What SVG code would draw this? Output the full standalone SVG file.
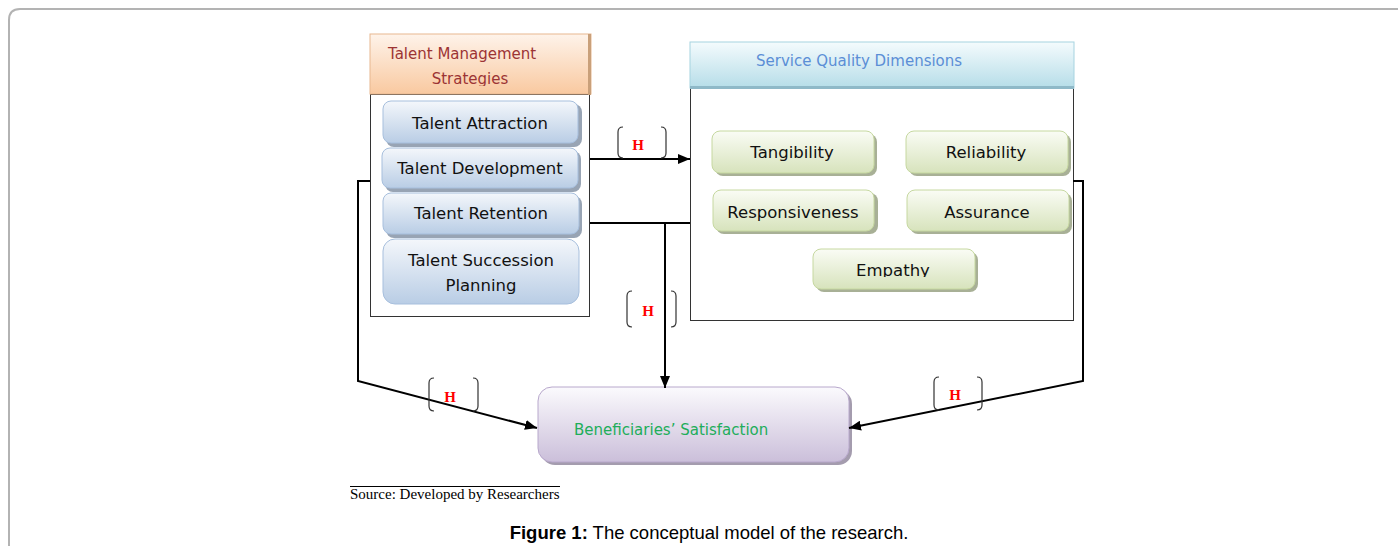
<svg xmlns="http://www.w3.org/2000/svg" width="1398" height="546" viewBox="0 0 1398 546">
<defs>
<linearGradient id="gBlue" x1="0" y1="0" x2="0" y2="1"><stop offset="0" stop-color="#f4f7fb"/><stop offset="1" stop-color="#b9cde5"/></linearGradient>
<linearGradient id="gGreen" x1="0" y1="0" x2="0" y2="1"><stop offset="0" stop-color="#fafcf5"/><stop offset="1" stop-color="#d7e3bc"/></linearGradient>
<linearGradient id="gOrange" x1="0" y1="0" x2="0" y2="1"><stop offset="0" stop-color="#fef3ea"/><stop offset="1" stop-color="#f9c9a0"/></linearGradient>
<linearGradient id="gCyan" x1="0" y1="0" x2="0" y2="1"><stop offset="0" stop-color="#f4fbfd"/><stop offset="1" stop-color="#b6dde8"/></linearGradient>
<linearGradient id="gPurple" x1="0" y1="0" x2="0" y2="1"><stop offset="0" stop-color="#fbfafd"/><stop offset="1" stop-color="#cbbfda"/></linearGradient>
<marker id="arr" viewBox="0 0 12 10" refX="12" refY="5" markerWidth="12" markerHeight="10" markerUnits="userSpaceOnUse" orient="auto"><path d="M0,0 L12,5 L0,10 z" fill="#000"/></marker>
<clipPath id="clipTM"><rect x="370" y="34" width="220" height="52"/></clipPath>
<clipPath id="clipEmp"><rect x="813" y="249" width="162" height="28"/></clipPath>
</defs>
<style>
.frame{fill:none;stroke:#b3b3b3;stroke-width:2}
.panel{fill:#fff;stroke:#333;stroke-width:1}
.bshadow{fill:#98a4b4}
.gshadow{fill:#a8b096}
.blue{fill:url(#gBlue);stroke:#a7bfdd;stroke-width:1}
.green{fill:url(#gGreen);stroke:#c6d8a0;stroke-width:1}
.btxt{font-family:"DejaVu Sans",sans-serif;font-size:16.5px;fill:#111;text-anchor:middle}
.htxt{font-family:"DejaVu Sans",sans-serif;font-size:15px}
.conn{fill:none;stroke:#000;stroke-width:2}
.brk{fill:none;stroke:#333;stroke-width:1.2}
.h{font-family:"Liberation Serif",serif;font-weight:bold;font-size:15px;fill:#f00;text-anchor:middle}
</style>
<path class="frame" d="M9,546 L9,20 Q9,9 20,9 L1398,9"/>

<g id="talent-management">
<rect class="panel" x="370.5" y="94.5" width="219" height="222"/>
<rect x="370" y="34" width="221" height="60" fill="url(#gOrange)" stroke="#e8b890" stroke-width="1"/>
<rect x="588" y="34" width="3" height="61" fill="#c9a07a"/>
<g clip-path="url(#clipTM)">
<text class="htxt" x="388" y="59" fill="#9c3434">Talent Management</text>
<text class="htxt" x="470" y="84" fill="#9c3434" text-anchor="middle">Strategies</text>
</g>
</g>

<g id="talent-attraction">
<rect class="bshadow" x="386" y="104" width="196" height="43" rx="8"/>
<rect class="blue" x="383" y="101" width="195" height="42" rx="8"/>
<text class="btxt" x="480" y="129">Talent Attraction</text>
</g>
<g id="talent-development">
<rect class="bshadow" x="385" y="151" width="196" height="41" rx="8"/>
<rect class="blue" x="382" y="148" width="196" height="40" rx="8"/>
<text class="btxt" x="480" y="174">Talent Development</text>
</g>
<g id="talent-retention">
<rect class="bshadow" x="386" y="196" width="196" height="42" rx="8"/>
<rect class="blue" x="383" y="193" width="196" height="41" rx="8"/>
<text class="btxt" x="481" y="219">Talent Retention</text>
</g>
<g id="talent-succession">
<rect class="blue" x="383" y="239" width="196" height="65" rx="12"/>
<text class="btxt" x="481" y="266">Talent Succession</text>
<text class="btxt" x="481" y="291">Planning</text>
</g>

<g id="service-quality">
<rect class="panel" x="690.5" y="88.5" width="383" height="232"/>
<rect x="690" y="42" width="384" height="46" fill="url(#gCyan)" stroke="#a6d3e0" stroke-width="1"/>
<rect x="690" y="86" width="384" height="3" fill="#8fb9c8"/>
<text class="htxt" x="756" y="66" fill="#5b8ed6">Service Quality Dimensions</text>
</g>

<g id="tangibility">
<rect class="gshadow" x="715" y="134" width="162" height="42" rx="8"/>
<rect class="green" x="712" y="131" width="162" height="42" rx="8"/>
<text class="btxt" x="792" y="158">Tangibility</text>
</g>
<g id="reliability">
<rect class="gshadow" x="909" y="134" width="162" height="42" rx="8"/>
<rect class="green" x="906" y="131" width="162" height="42" rx="8"/>
<text class="btxt" x="986" y="158">Reliability</text>
</g>
<g id="responsiveness">
<rect class="gshadow" x="716" y="193" width="162" height="41" rx="8"/>
<rect class="green" x="713" y="190" width="161" height="41" rx="8"/>
<text class="btxt" x="793" y="218">Responsiveness</text>
</g>
<g id="assurance">
<rect class="gshadow" x="910" y="193" width="162" height="41" rx="8"/>
<rect class="green" x="907" y="190" width="162" height="41" rx="8"/>
<text class="btxt" x="987" y="218">Assurance</text>
</g>
<g id="empathy">
<rect class="gshadow" x="816" y="252" width="162" height="40" rx="8"/>
<rect class="green" x="813" y="249" width="162" height="40" rx="8"/>
<g clip-path="url(#clipEmp)"><text class="btxt" x="893" y="276">Empathy</text></g>
</g>

<g id="beneficiaries-satisfaction">
<rect x="541" y="390" width="311" height="75" rx="14" fill="#a49cae"/>
<rect x="538" y="387" width="311" height="75" rx="14" fill="url(#gPurple)" stroke="#b8a8cc" stroke-width="1"/>
<text class="htxt" x="574" y="435" fill="#21ad5a">Beneficiaries’ Satisfaction</text>
</g>

<g id="connectors">
<line class="conn" x1="590" y1="159" x2="690" y2="159" marker-end="url(#arr)"/>
<line class="conn" x1="590" y1="223" x2="690" y2="223"/>
<line class="conn" x1="665" y1="223" x2="665" y2="388" marker-end="url(#arr)"/>
<polyline class="conn" points="370,181 358,181 358,381 537,428" marker-end="url(#arr)"/>
<polyline class="conn" points="1073,181 1083,181 1083,381 849,428" marker-end="url(#arr)"/>
</g>

<g id="h-labels">
<path class="brk" d="M623,127 Q618,127 618,132 L618,153 Q618,158 623,158 M661,127 Q666,127 666,132 L666,153 Q666,158 661,158"/>
<text class="h" x="638" y="150">H</text>
<path class="brk" d="M632,291 Q627,291 627,296 L627,322 Q627,327 632,327 M671,291 Q676,291 676,296 L676,322 Q676,327 671,327"/>
<text class="h" x="648" y="316">H</text>
<path class="brk" d="M434,378 Q429,378 429,383 L429,406 Q429,411 434,411 M473,378 Q478,378 478,383 L478,406 Q478,411 473,411"/>
<text class="h" x="450" y="402">H</text>
<path class="brk" d="M939,377 Q934,377 934,382 L934,405 Q934,410 939,410 M977,377 Q982,377 982,382 L982,405 Q982,410 977,410"/>
<text class="h" x="955" y="400">H</text>
</g>

<g id="source">
<line x1="350" y1="486.5" x2="560" y2="486.5" stroke="#000" stroke-width="1"/>
<text x="350" y="499" font-family="Liberation Serif,serif" font-size="15" fill="#000">Source: Developed by Researchers</text>
</g>
<text x="709" y="539" font-family="Liberation Sans,Arial,sans-serif" font-size="18.5" fill="#000" text-anchor="middle"><tspan font-weight="bold">Figure 1:</tspan> The conceptual model of the research.</text>
</svg>
